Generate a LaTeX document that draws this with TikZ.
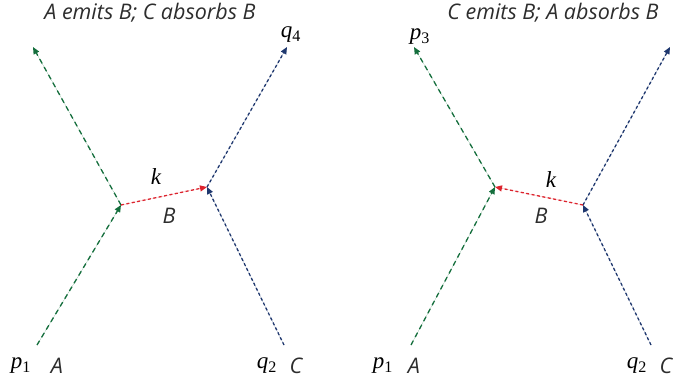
\documentclass[tikz,border=0pt]{standalone}
\usepackage{fontspec}
\setmainfont{Open Sans}
\newfontfamily\mathser{Liberation Serif}
\usetikzlibrary{arrows.meta}
\definecolor{pgreen}{RGB}{20,110,60}
\definecolor{pblue}{RGB}{30,55,110}
\definecolor{pred}{RGB}{220,35,45}
\definecolor{ptext}{RGB}{45,45,45}
\tikzset{
  tip/.style={-{Triangle[length=7pt,width=6pt]}},
  gline/.style={tip,draw=pgreen,fill=pgreen,line width=1.3pt,dash pattern=on 5pt off 4pt},
  bline/.style={tip,draw=pblue,fill=pblue,line width=1.3pt,dash pattern=on 3pt off 2.5pt},
  rline/.style={tip,draw=pred,fill=pred,line width=1.3pt,dash pattern=on 3pt off 2.5pt},
  ttl/.style={font=\itshape\fontsize{21.5}{24}\selectfont,text=ptext,inner sep=0pt},
  lbl/.style={font=\itshape\fontsize{21.5}{24}\selectfont,text=ptext,inner sep=0pt},
  mlbl/.style={font=\mathser\itshape\fontsize{23}{26}\selectfont,text=black,inner sep=0pt},
  pt/.style={coordinate}
}
\newcommand{\sbs}[1]{\textsubscript{\upshape #1}}
\begin{document}
\begin{tikzpicture}[x=1pt,y=-1pt]
\useasboundingbox (0,0) rectangle (673,386);
% left diagram
\coordinate (a1) at (37,345);
\coordinate (v1) at (121,205);
\coordinate (e1) at (33,47);
\coordinate (c1) at (284,345);
\coordinate (v2) at (207,187);
\coordinate (e2) at (287,47);
\draw[gline] (a1) -- (v1);
\draw[gline] (v1) -- (e1);
\draw[bline] (c1) -- (v2);
\draw[bline] (v2) -- (e2);
\draw[rline] (v1) -- (v2);
\node[ttl] (t1) at (150,13) {A emits B; C absorbs B};
\node[mlbl] (q4) at (291,35) {q\sbs{4}};
\node[mlbl] (k1) at (156,177) {k};
\node[lbl] (b1) at (169,216) {B};
\node[mlbl] (p1) at (21,366) {p\sbs{1}};
\node[lbl] (la) at (57,366) {A};
\node[mlbl] (q2) at (267,366) {q\sbs{2}};
\node[lbl] (lc) at (296,366) {C};
% right diagram
\coordinate (a2) at (411,345);
\coordinate (v3) at (495,187);
\coordinate (e3) at (414,47);
\coordinate (c2) at (651,345);
\coordinate (v4) at (583,205);
\coordinate (e4) at (670,47);
\draw[gline] (a2) -- (v3);
\draw[gline] (v3) -- (e3);
\draw[bline] (c2) -- (v4);
\draw[bline] (v4) -- (e4);
\draw[rline] (v4) -- (v3);
\node[ttl] (t2) at (553,13) {C emits B; A absorbs B};
\node[mlbl] (p3) at (420,37) {p\sbs{3}};
\node[mlbl] (k2) at (551,180) {k};
\node[lbl] (b2) at (541,216) {B};
\node[mlbl] (p1r) at (383,366) {p\sbs{1}};
\node[lbl] (la2) at (414,366) {A};
\node[mlbl] (q2r) at (637,366) {q\sbs{2}};
\node[lbl] (lc2) at (666,366) {C};
\end{tikzpicture}
\end{document}
